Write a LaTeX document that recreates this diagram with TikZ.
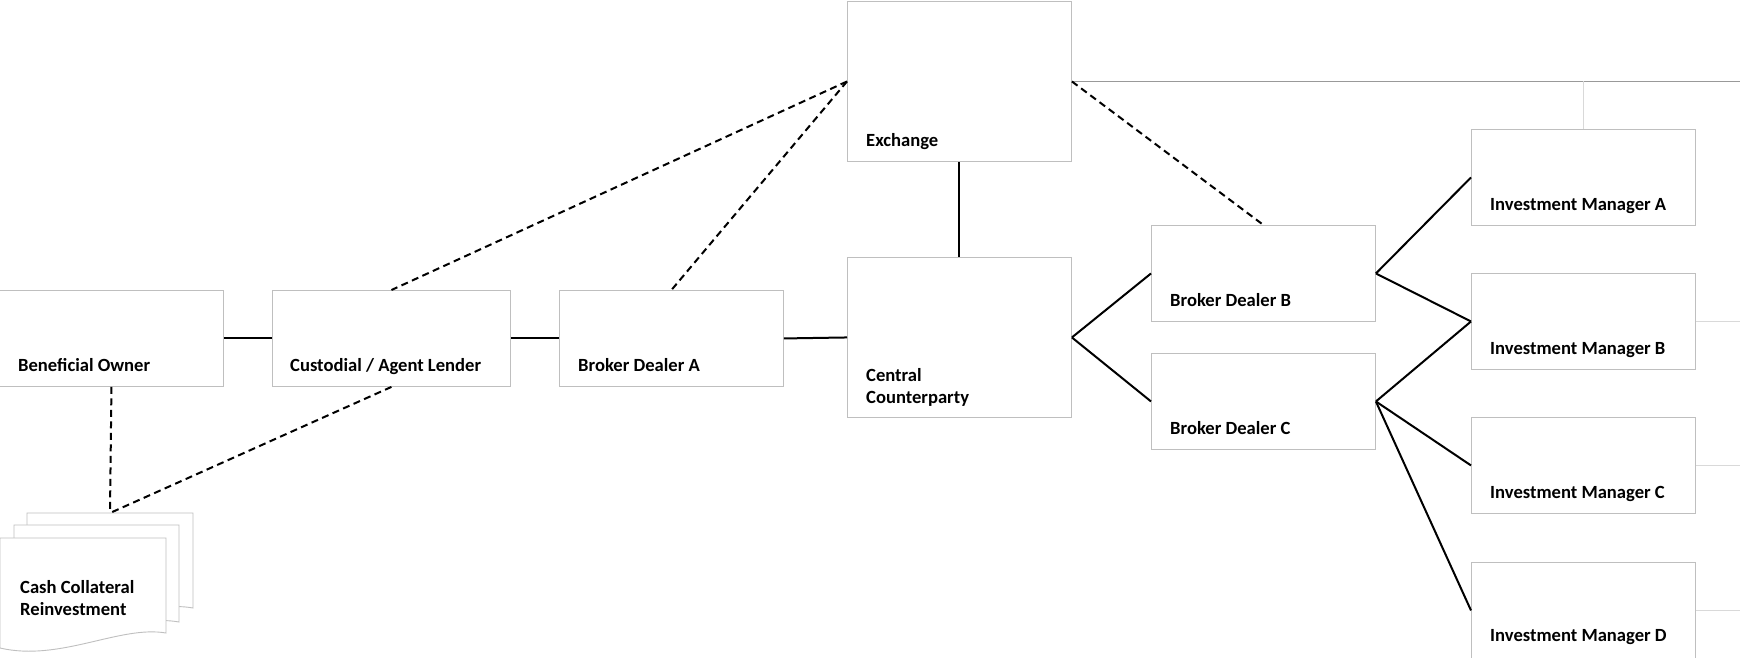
\documentclass[tikz,border=0pt]{standalone}
\usepackage{fontspec}
\setmainfont{Carlito}
\usetikzlibrary{calc}
\tikzset{
  box/.style={draw=black!25, line width=0.9pt, fill=white, rectangle, inner sep=0pt, anchor=north west, minimum width=224pt, minimum height=96pt},
  lbl/.style={anchor=base west, inner sep=0pt, font=\fontsize{18.6}{22}\selectfont\bfseries, align=left},
  link/.style={line width=2pt, black},
  dlink/.style={line width=2pt, black, dash pattern=on 7pt off 4.5pt},
  thin/.style={line width=0.8pt, black!40},
  faint/.style={line width=0.8pt, black!15},
  doc/.style={draw=black!25, line width=0.9pt, fill=white}
}
\begin{document}
\begin{tikzpicture}[x=1pt, y=-1pt]
\useasboundingbox (0,0) rectangle (1740,657);
\coordinate (redge) at (1740,0);
% boxes
\node[box] (bo) at (-1,290) {};
\node[box, minimum width=238pt] (cust) at (272,290) {};
\node[box] (bda) at (559,290) {};
\node[box, minimum height=160pt] (ex) at (847,1) {};
\node[box, minimum height=160pt] (ccp) at (847,257) {};
\node[box] (bdb) at (1151,225) {};
\node[box] (bdc) at (1151,353) {};
\node[box] (ima) at (1471,129) {};
\node[box] (imb) at (1471,273) {};
\node[box] (imc) at (1471,417) {};
\node[box] (imd) at (1471,562) {};
% labels
\node[lbl] (tbo) at ($(bo.south west)+(19,-15)$) {Beneficial Owner};
\node[lbl] (tcust) at ($(cust.south west)+(18,-15)$) {Custodial / Agent Lender};
\node[lbl] (tbda) at ($(bda.south west)+(19,-15)$) {Broker Dealer A};
\node[lbl] (tex) at ($(ex.south west)+(19,-15)$) {Exchange};
\node[lbl] (tccp) at ($(ccp.south west)+(19,-14)$) {Central\\Counterparty};
\node[lbl] (tbdb) at ($(bdb.south west)+(19,-15)$) {Broker Dealer B};
\node[lbl] (tbdc) at ($(bdc.south west)+(19,-15)$) {Broker Dealer C};
\node[lbl] (tima) at ($(ima.south west)+(19,-15)$) {Investment Manager A};
\node[lbl] (timb) at ($(imb.south west)+(19,-15)$) {Investment Manager B};
\node[lbl] (timc) at ($(imc.south west)+(19,-15)$) {Investment Manager C};
\node[lbl] (timd) at ($(imd.south west)+(19,-17)$) {Investment Manager D};
% document stack
\draw[doc] (27,513) -- (193,513) -- (193,608) .. controls (150,600) and (90,628) .. (27,620) -- cycle;
\draw[doc] (14,525) -- (179,525) -- (179,622) .. controls (136,614) and (76,642) .. (14,634) -- cycle;
\draw[doc] (0,538) -- (166,538) -- (166,633) .. controls (120,625) and (60,662) .. (0,648) -- cycle;
\coordinate (doctop) at (110,513);
\node[lbl] (tdoc) at (20,615) {Cash Collateral\\Reinvestment};
% thin gray lines
\draw[thin] (ex.east) -- (ex.east -| redge);
\draw[faint] (ima.north) -- (ima.north |- ex.east);
\draw[faint] (imb.east) -- (imb.east -| redge);
\draw[faint] (imc.east) -- (imc.east -| redge);
\draw[faint] (imd.east) -- (imd.east -| redge);
% solid links
\draw[link] (bo.east) -- (cust.west);
\draw[link] (cust.east) -- (bda.west);
\draw[link] (bda.east) -- (ccp.west);
\draw[link] (ex.south) -- (ccp.north);
\draw[link] (ccp.east) -- (bdb.west);
\draw[link] (ccp.east) -- (bdc.west);
\draw[link] (bdb.east) -- (ima.west);
\draw[link] (bdb.east) -- (imb.west);
\draw[link] (bdc.east) -- (imb.west);
\draw[link] (bdc.east) -- (imc.west);
\draw[link] (bdc.east) -- (imd.west);
% dashed links
\draw[dlink] (ex.west) -- (cust.north);
\draw[dlink] (ex.west) -- (bda.north);
\draw[dlink] (ex.east) -- (bdb.north);
\draw[dlink] (bo.south) -- (doctop);
\draw[dlink] (cust.south) -- (doctop);
\end{tikzpicture}
\end{document}
